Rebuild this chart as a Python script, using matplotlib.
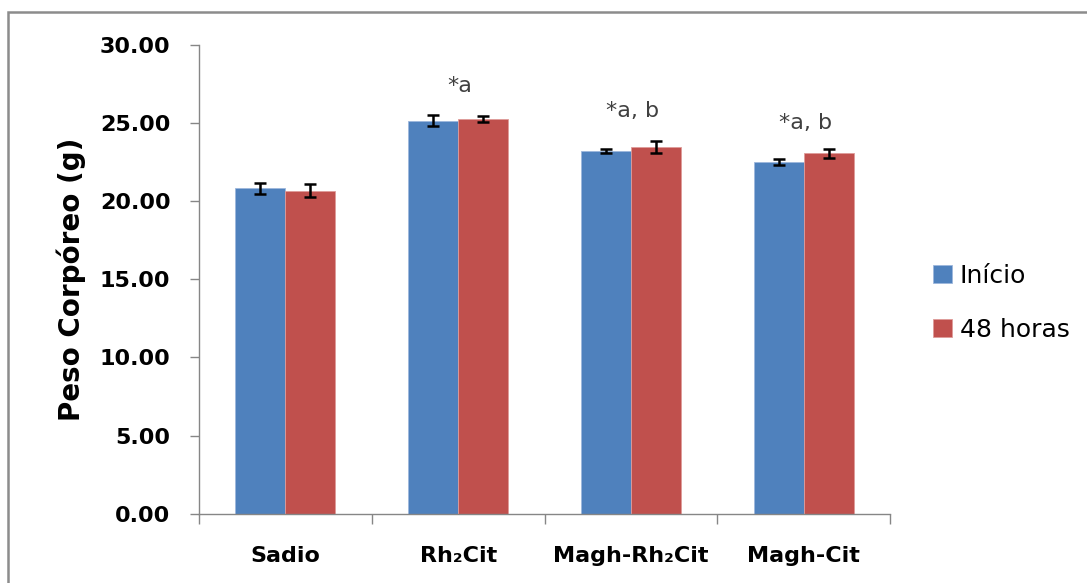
import numpy as np
import matplotlib
matplotlib.use("Agg")
import matplotlib.pyplot as plt
from matplotlib.patches import Rectangle

plt.rcParams['font.family'] = ['DejaVu Sans']

# body weight per group (g), mean and error
grupos = ["Sadio", "Rh\u2082Cit", "Magh-Rh\u2082Cit", "Magh-Cit"]
inicio = [20.81, 25.16, 23.21, 22.49]
inicio_err = [0.36, 0.33, 0.15, 0.20]
horas48 = [20.68, 25.24, 23.45, 23.05]
horas48_err = [0.42, 0.20, 0.38, 0.30]
marcas = ["", "*a", "*a, b", "*a, b"]
marca_y = [None, 27.4, 25.8, 25.0]

fig = plt.figure(figsize=(10.87, 5.83), dpi=100)
ax = fig.add_axes([0.183, 0.119, 0.636, 0.804])

x = np.arange(len(grupos))
w = 0.29
errkw = dict(ecolor="black", elinewidth=1.8, capsize=4, capthick=1.8)
ax.bar(x - w/2, inicio, w, yerr=inicio_err, color="#4F81BD",
       edgecolor="#9DB7DC", linewidth=0.6, label="Início", error_kw=errkw)
ax.bar(x + w/2, horas48, w, yerr=horas48_err, color="#C0504D",
       edgecolor="#DE9C9A", linewidth=0.6, label="48 horas", error_kw=errkw)

for i, m in enumerate(marcas):
    if m:
        ax.text(x[i] + 0.01, marca_y[i], m, ha="center", va="center",
                fontsize=16, color="#404040")

ax.set_xlim(-0.5, len(grupos) - 0.5)
ax.set_ylim(0, 30)
ax.set_yticks(np.arange(0, 30.1, 5))
ax.set_yticklabels(["%.2f" % v for v in np.arange(0, 30.1, 5)],
                   fontsize=16, fontweight="bold")
ax.set_xticks(x)
ax.set_xticklabels(grupos, fontsize=16, fontweight="bold")
ax.set_xticks(np.arange(-0.5, len(grupos)), minor=True)
ax.tick_params(axis="x", which="major", length=0, pad=23)
ax.tick_params(axis="x", which="minor", length=7, color="#868686", width=1)
ax.tick_params(axis="y", length=6.5, color="#868686", width=1, pad=14)
ax.set_ylabel("Peso Corpóreo (g)", fontsize=20, fontweight="bold", labelpad=10)

for s in ["top", "right"]:
    ax.spines[s].set_visible(False)
for s in ["left", "bottom"]:
    ax.spines[s].set_color("#868686")
    ax.spines[s].set_linewidth(1)

ax.legend(loc="center left", bbox_to_anchor=(1.03, 0.45), frameon=False,
          fontsize=18, handlelength=0.75, handleheight=0.75,
          handletextpad=0.3, labelspacing=1.2)

# outer frame line
fig.patches.append(Rectangle((8/1087, -0.1), 1.2, (583 - 12)/583 + 0.1,
                             transform=fig.transFigure, fill=False,
                             edgecolor="#8C8C8C", linewidth=1.8))

fig.savefig("out.png", dpi=100)
